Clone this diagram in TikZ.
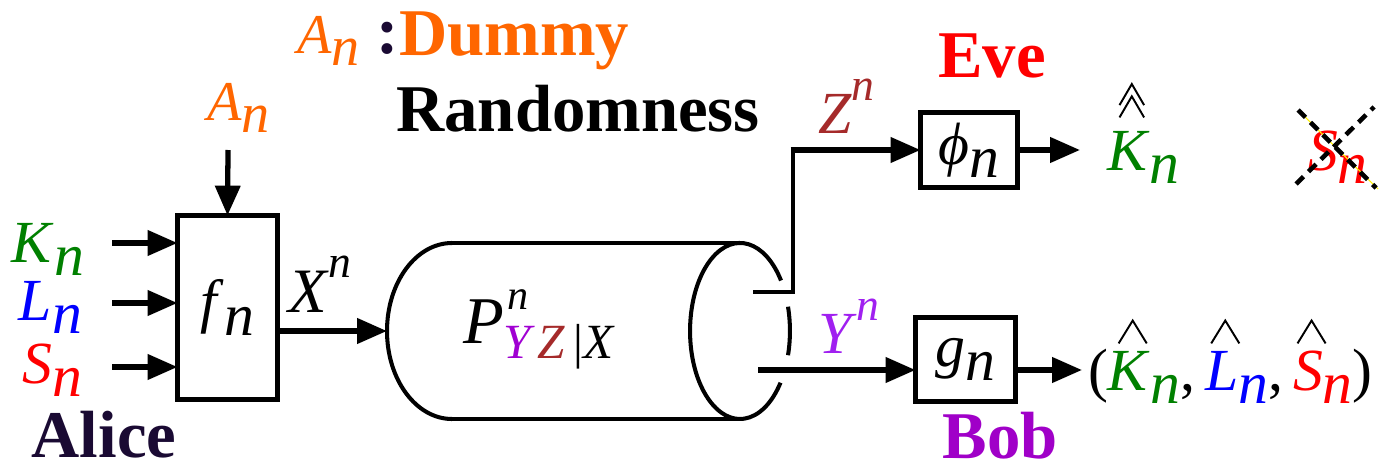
\documentclass[tikz,border=0pt]{standalone}
\usepackage{fontspec}
\setmainfont{Liberation Serif}
\usetikzlibrary{arrows.meta}
\definecolor{cK}{RGB}{0,128,0}
\definecolor{cL}{RGB}{0,0,255}
\definecolor{cS}{RGB}{255,0,0}
\definecolor{cA}{RGB}{255,102,0}
\definecolor{cZ}{RGB}{165,42,42}
\definecolor{cY}{RGB}{160,32,240}
\definecolor{cYs}{RGB}{160,0,210}
\definecolor{cBob}{RGB}{160,0,200}
\definecolor{cAlice}{RGB}{26,10,51}
\newcommand\subn[1]{\textit{#1}\raisebox{-0.22em}{\textit{n}}}
\newcommand\supn[1]{\textit{#1}\raisebox{0.55em}{\fontsize{26}{26}\selectfont\textit{n}}}
\newcommand\hatmark{\tikz[x=1pt,y=1pt,baseline=0pt]\draw[line width=1.1pt,black,line join=miter](0,0)--(8,13)--(16,0);}
\newcommand\dhatmark{\tikz[x=1pt,y=1pt,baseline=0pt]\draw[line width=1.1pt,black,line join=miter](0,0)--(7,12)--(14,0) (0,7)--(7,19)--(14,7);}
\newcommand\hatted[2]{\ooalign{#2\cr\hidewidth\kern0.12em\raisebox{#1}{\hatmark}\hidewidth\cr}}
\newcommand\dhatted[2]{\ooalign{#2\cr\hidewidth\kern0.12em\raisebox{#1}{\dhatmark}\hidewidth\cr}}
\newcommand\hsub[2]{\textcolor{#1}{\hatted{0.78em}{\textit{#2}}\raisebox{-0.22em}{\textit{n}}}}
\tikzset{
  lab/.style={font=\fontsize{34}{40}\selectfont, inner sep=0pt, outer sep=0pt},
  bigw/.style={font=\fontsize{38}{42}\selectfont\bfseries, inner sep=0pt},
  boxx/.style={draw, line width=3pt, inner sep=0pt, fill=white},
  arr/.style={line width=3pt, -{Triangle[length=17pt,width=14pt]}},
  wire/.style={line width=2.8pt},
  cylline/.style={line width=2.3pt},
  xdash/.style={line width=2.6pt, dash pattern=on 6pt off 4pt},
}
\begin{document}
\begin{tikzpicture}[x=0.02cm,y=-0.02cm]
\useasboundingbox (0,0) rectangle (1388,470);
% header text
\node[lab, font=\fontsize{32}{36}\selectfont, anchor=base west, text=cA] (anh) at (297,53) {\subn{A}};
\node[bigw, anchor=base west, text=cAlice] (colon) at (376,53) {:};
\node[bigw, anchor=base west, text=cA] (dummy) at (399,55) {Dummy};
\node[bigw, anchor=base west] (rand) at (396,131) {Randomness};
\node[bigw, anchor=base, text=cS] (eve) at (992,77) {Eve};
\node[bigw, anchor=base, text=cBob] (bob) at (1000,458) {Bob};
\node[bigw, anchor=base, text=cAlice] (alice) at (104,457) {Alice};
% Alice encoder
\node[boxx, minimum width=2cm, minimum height=3.68cm, lab] (f) at (227.5,307.5) {\subn{f}};
\node[lab, font=\fontsize{32}{36}\selectfont, anchor=base west, text=cA] (an) at (207,120) {\subn{A}};
\coordinate (antop) at (228,150);
\draw[arr] (antop) -- (f.north);
\node[lab, anchor=base east, text=cK] (kin) at (84,262) {\subn{K}};
\node[lab, anchor=base east, text=cL] (lin) at (82,320) {\subn{L}};
\node[lab, anchor=base east, text=cS] (sin) at (82,383) {\subn{S}};
\coordinate (k0) at (112,243);
\coordinate (l0) at (112,303);
\coordinate (s0) at (112,367);
\draw[arr] (k0) -- (f.west |- k0);
\draw[arr] (l0) -- (f.west |- l0);
\draw[arr] (s0) -- (f.west |- s0);
% X arrow
\coordinate (cylL) at (387,331);
\draw[arr] (f.east |- cylL) -- (cylL);
\node[lab, font=\fontsize{36}{40}\selectfont, anchor=base west] (xn) at (288,312) {\supn{X}};
% cylinder
\draw[cylline] (452,243) arc[start angle=270, end angle=90, x radius=65, y radius=88];
\draw[cylline] (452,243) -- (740,243);
\draw[cylline] (452,419) -- (740,419);
\draw[cylline] (781,280.5) arc[start angle=-35, end angle=-324, x radius=50, y radius=88];
\draw[cylline] (788,306.7) arc[start angle=-16, end angle=16, x radius=50, y radius=88];
\node[lab, font=\fontsize{38}{40}\selectfont, anchor=base west] (chan) at (463,343)
  {\textit{P}\rlap{\kern0.05em\raisebox{0.5em}{\fontsize{24}{24}\selectfont\textit{n}}}\raisebox{-0.23em}{\fontsize{28}{28}\selectfont\textcolor{cYs}{\textit{Y}}\kern1pt\textcolor{cZ}{\textit{Z}}\kern5pt|\textit{X}}};
% Eve
\node[boxx, minimum width=1.94cm, minimum height=1.5cm, lab] (phi) at (969,150) {\textit{\symbol{"03D5}}\raisebox{-0.22em}{\textit{n}}};
\coordinate (zout) at (753,292);
\coordinate (zcorner) at (793,292);
\draw[wire, line join=miter] (zout) -- (zcorner) -- (zcorner |- phi.west);
\draw[arr] ([xshift=-1.4pt]zcorner |- phi.west) -- (phi.west);
\node[lab, anchor=base west, text=cZ] (zn) at (818,133) {\supn{Z}};
\coordinate (phiend) at (1080,150);
\draw[arr] (phi.east) -- (phiend);
\node[lab, anchor=base west, text=cK] (khat) at (1107,170) {\dhatted{0.88em}{\textit{K}}\raisebox{-0.22em}{\textit{n}}};
\node[lab, anchor=base west, text=cS] (scross) at (1308,170) {\subn{S}};
\coordinate (xa) at (1298,110);
\coordinate (xb) at (1376,188);
\coordinate (xc) at (1296,184);
\coordinate (xd) at (1374,107);
\coordinate (ya) at (1305,117);
\coordinate (yb) at (1378,189);
\draw[yellow, line width=0.6pt] (ya) -- (yb);
\draw[xdash] (xa) -- (xb);
\draw[xdash] (xc) -- (xd);
% Bob
\node[boxx, minimum width=2cm, minimum height=1.68cm, lab] (g) at (965.5,359.5) {\subn{g}};
\coordinate (yout) at (758,370);
\draw[arr] (yout) -- (g.west |- yout);
\node[lab, anchor=base west, text=cY] (yn) at (818,353) {\supn{Y}};
\coordinate (gend) at (1082,370);
\draw[arr] (g.east |- gend) -- (gend);
\node[lab, anchor=base west] (out) at (1088,390)
  {(\hsub{cK}{K},\,\hsub{cL}{L},\,\hsub{cS}{S})};
\end{tikzpicture}
\end{document}
